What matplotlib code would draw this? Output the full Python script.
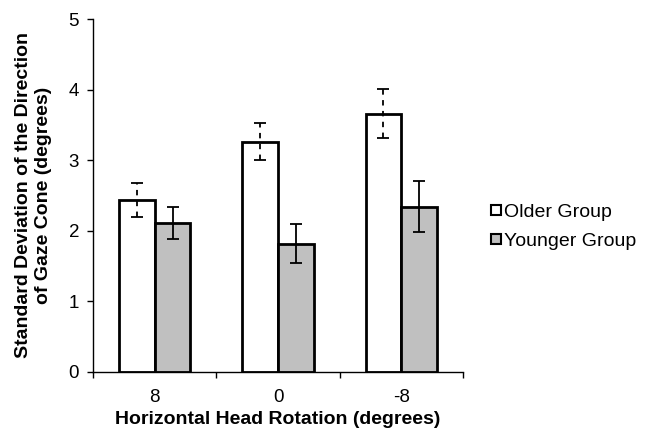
import numpy as np
import matplotlib
matplotlib.use('Agg')
import matplotlib.pyplot as plt
from matplotlib.lines import Line2D

plt.rcParams['font.family'] = ['Liberation Sans', 'DejaVu Sans']

# --- data: SD of gaze cone direction by head rotation
rotations = ['8', '0', '-8']
older_mean = [2.44, 3.26, 3.66]
older_err = [0.24, 0.26, 0.35]
younger_mean = [2.11, 1.82, 2.34]
younger_err = [0.23, 0.27, 0.36]

fig = plt.figure(figsize=(6.46, 4.33), dpi=100)
ax = fig.add_axes((0.144, 0.1409, 0.5727, 0.8152))

x = np.arange(len(rotations))
w = 0.29

ax.bar(x - w/2, older_mean, width=w, color='white', edgecolor='black', linewidth=2, zorder=2)
ax.bar(x + w/2, younger_mean, width=w, color='#c0c0c0', edgecolor='black', linewidth=2, zorder=2)

# dashed error bars for older group, solid for younger
eb = ax.errorbar(x - w/2, older_mean, yerr=older_err, fmt='none', ecolor='black',
                 elinewidth=1.3, capsize=4, capthick=1.3, zorder=3)
eb[2][0].set_linestyle((0, (3, 3)))
ax.errorbar(x + w/2, younger_mean, yerr=younger_err, fmt='none', ecolor='black',
            elinewidth=1.3, capsize=4, capthick=1.3, zorder=3)

ax.set_xlim(-0.5, len(rotations) - 0.5)
ax.set_ylim(0, 5)
ax.set_yticks(range(6))
ax.set_xticks(x)
ax.set_xticklabels(rotations)
ax.set_xticks(np.arange(-0.5, len(rotations)), minor=True)
ax.tick_params(axis='x', which='major', length=0, pad=12.5, labelsize=13.5)
ax.tick_params(axis='x', which='minor', length=4, width=1, direction='out')
ax.tick_params(axis='y', length=4, width=1, direction='out', pad=6, labelsize=13.5)

for s in ['top', 'right']:
    ax.spines[s].set_visible(False)
ax.spines['left'].set_linewidth(1)
ax.spines['bottom'].set_linewidth(1)

ax.set_xlabel('Horizontal Head Rotation (degrees)', fontsize=14, fontweight='bold', labelpad=3.5)
ax.set_ylabel('Standard Deviation of the Direction\nof Gaze Cone (degrees)', fontsize=14,
              fontweight='bold', labelpad=12, linespacing=1.2)

handles = [Line2D([], [], marker='s', linestyle='none', markersize=6.5, markerfacecolor='white',
                  markeredgecolor='black', markeredgewidth=1.5),
           Line2D([], [], marker='s', linestyle='none', markersize=6.5, markerfacecolor='#c0c0c0',
                  markeredgecolor='black', markeredgewidth=1.5)]
fig.legend(handles, ['Older Group', 'Younger Group'], loc='upper left',
           bbox_to_anchor=(0.758, 0.531), frameon=False, fontsize=14,
           handlelength=0.7, handletextpad=0.05, labelspacing=0.6,
           borderpad=0, borderaxespad=0)

fig.savefig('out.png', dpi=100)
